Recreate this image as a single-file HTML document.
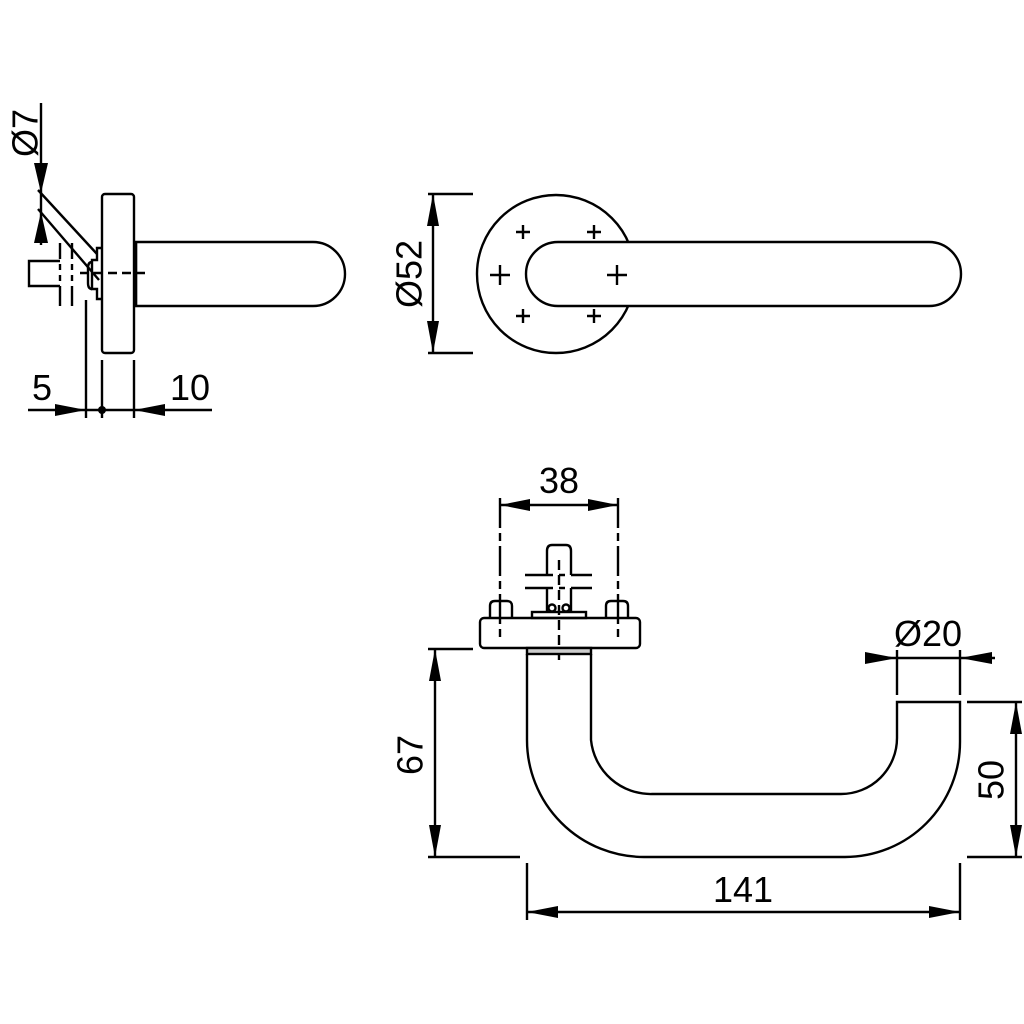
<!DOCTYPE html>
<html><head><meta charset="utf-8"><style>
html,body{margin:0;padding:0;background:#fff;}
svg{display:block;}
text{font-family:"Liberation Sans",sans-serif;font-size:36px;fill:#000;}
</style></head><body>
<svg width="1024" height="1024" viewBox="0 0 1024 1024" xmlns="http://www.w3.org/2000/svg">
<g fill="none" stroke="#000" stroke-width="2.4" stroke-linecap="butt">
<!-- SIDE VIEW -->
<rect x="102" y="194" width="32" height="159" rx="3"/>
<path d="M136,242 H313 A32,32 0 0 1 313,306 H136 Z"/>
<line x1="136" y1="242" x2="136" y2="306"/>
<path d="M60,261 H29 V286 H60"/>
<line x1="60" y1="243" x2="60" y2="306" stroke-dasharray="16,5,6,5,6,5,30"/>
<line x1="72" y1="243" x2="72" y2="306" stroke-dasharray="16,5,6,5,6,5,30"/>
<path d="M102,248 H97 V260 H92 V289 H97 V299 H102"/>
<path d="M92,262 Q88,262 88,268 V283 Q88,289 92,289"/>
<line x1="80" y1="273" x2="145" y2="273" stroke-dasharray="9,5"/>
<line x1="38" y1="190" x2="97" y2="254"/>
<line x1="38" y1="209" x2="99" y2="280"/>
<line x1="41" y1="103" x2="41" y2="245"/>
<line x1="86" y1="300" x2="86" y2="418"/>
<line x1="102" y1="360" x2="102" y2="418"/>
<line x1="134" y1="360" x2="134" y2="418"/>
<line x1="28" y1="410" x2="212" y2="410"/>
<!-- FRONT VIEW -->
<circle cx="556" cy="274" r="79"/>
<path d="M558,242 H929 A32,32 0 0 1 929,306 H558 A32,32 0 0 1 558,242 Z" fill="#fff"/>
<line x1="433" y1="194" x2="433" y2="353"/>
<line x1="428" y1="194" x2="473" y2="194"/>
<line x1="428" y1="353" x2="473" y2="353"/>
<!-- BOTTOM VIEW -->
<rect x="480" y="618" width="160" height="30" rx="4"/>
<path d="M490,618 V606 Q490,601 495,601 H507 Q512,601 512,606 V618"/>
<path d="M606,618 V606 Q606,601 611,601 H623 Q628,601 628,606 V618"/>
<rect x="532" y="612" width="54" height="6"/>
<path d="M547,575 V551 Q547,545 552,545 H566 Q571,545 571,551 V575"/>
<line x1="525" y1="575" x2="592" y2="575" stroke-dasharray="28,6,6,6,30"/>
<line x1="525" y1="588" x2="592" y2="588" stroke-dasharray="28,6,6,6,30"/>
<line x1="547" y1="588" x2="547" y2="612"/>
<line x1="571" y1="588" x2="571" y2="612"/>
<circle cx="552" cy="608" r="3.5"/><circle cx="566" cy="608" r="3.5"/>
<line x1="559" y1="560" x2="559" y2="660" stroke-dasharray="10,5"/>
<line x1="500" y1="498" x2="500" y2="640" stroke-dasharray="30,5,8,5"/>
<line x1="618" y1="498" x2="618" y2="640" stroke-dasharray="30,5,8,5"/>
<rect x="527" y="648" width="64" height="6" fill="#ccc"/>
<path d="M527,654 V740 A117,117 0 0 0 644,857 H845 A115,115 0 0 0 960,742 V702 H897 V738 A56,56 0 0 1 841,794 H652 A60,60 0 0 1 591,740 V654"/>
<line x1="500" y1="505" x2="618" y2="505"/>
<line x1="865" y1="658" x2="995" y2="658"/>
<line x1="897" y1="650" x2="897" y2="695"/>
<line x1="960" y1="650" x2="960" y2="695"/>
<line x1="435" y1="649" x2="435" y2="857"/>
<line x1="428" y1="649" x2="473" y2="649"/>
<line x1="428" y1="857" x2="520" y2="857"/>
<line x1="1016" y1="702" x2="1016" y2="857"/>
<line x1="967" y1="702" x2="1022" y2="702"/>
<line x1="967" y1="857" x2="1022" y2="857"/>
<line x1="527" y1="863" x2="527" y2="920"/>
<line x1="960" y1="863" x2="960" y2="920"/>
<line x1="527" y1="912" x2="960" y2="912"/>
</g>
<g stroke="#000" stroke-width="2.4">
<path d="M516,232h14M523,225v14M587,232h14M594,225v14M490,275h20M500,265v20M607,275h20M617,265v20M516,316h14M523,309v14M587,316h14M594,309v14"/>
</g>
<g fill="#000">
<path d="M34,163 L48,163 L41,193 Z"/>
<path d="M34,243 L48,243 L41,212 Z"/>
<path d="M55,404 L55,416 L86,410 Z"/>
<path d="M165,404 L165,416 L134,410 Z"/>
<circle cx="102" cy="410" r="4"/>
<path d="M427,226 L439,226 L433,194 Z"/>
<path d="M427,321 L439,321 L433,353 Z"/>
<path d="M530,499 L530,511 L500,505 Z"/>
<path d="M588,499 L588,511 L618,505 Z"/>
<path d="M865,652 L865,664 L897,658 Z"/>
<path d="M992,652 L992,664 L960,658 Z"/>
<path d="M429,681 L441,681 L435,649 Z"/>
<path d="M429,825 L441,825 L435,857 Z"/>
<path d="M1010,734 L1022,734 L1016,702 Z"/>
<path d="M1010,825 L1022,825 L1016,857 Z"/>
<path d="M558,906 L558,918 L527,912 Z"/>
<path d="M929,906 L929,918 L960,912 Z"/>
</g>
<text x="28" y="133" text-anchor="middle" transform="rotate(-90 28 133)" dominant-baseline="middle">Ø7</text>
<text x="42" y="400" text-anchor="middle">5</text>
<text x="190" y="400" text-anchor="middle">10</text>
<text x="412" y="274" text-anchor="middle" transform="rotate(-90 412 274)" dominant-baseline="middle">Ø52</text>
<text x="559" y="493" text-anchor="middle">38</text>
<text x="928" y="646" text-anchor="middle">Ø20</text>
<text x="413" y="755" text-anchor="middle" transform="rotate(-90 413 755)" dominant-baseline="middle">67</text>
<text x="994" y="780" text-anchor="middle" transform="rotate(-90 994 780)" dominant-baseline="middle">50</text>
<text x="743" y="902" text-anchor="middle">141</text>
</svg>
</body></html>
